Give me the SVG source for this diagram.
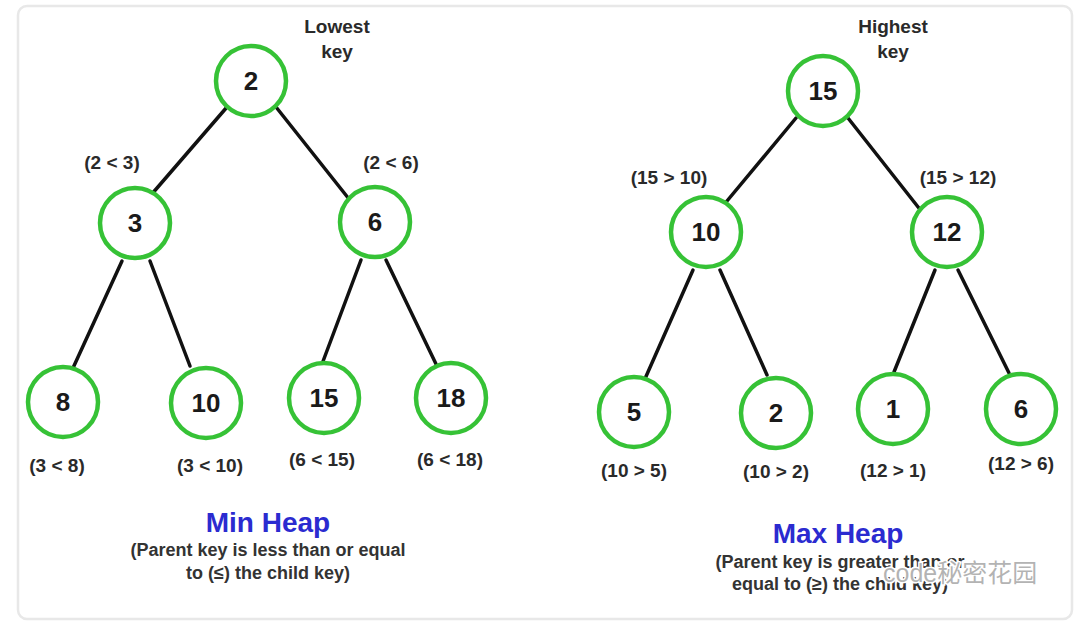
<svg xmlns="http://www.w3.org/2000/svg" width="1088" height="632" viewBox="0 0 1088 632">
<style>
.node circle{fill:#fff;stroke:#36c236;stroke-width:4.5}
.node text{font-family:"Liberation Sans",Arial,sans-serif;font-size:26px;font-weight:bold;fill:#1a1a1a;text-anchor:middle}
.edges line{stroke:#111;stroke-width:3.5;stroke-linecap:round}
.lbl{font-family:"Liberation Sans",Arial,sans-serif;font-size:19px;font-weight:bold;fill:#2a2a2a;text-anchor:middle}
.title{font-family:"Liberation Sans",Arial,sans-serif;font-size:28px;font-weight:bold;fill:#2b2bd0;text-anchor:middle}
.sub{font-family:"Liberation Sans",Arial,sans-serif;font-size:18px;font-weight:bold;fill:#333;text-anchor:middle}
.wm{font-family:"Liberation Sans","Noto Sans CJK SC",sans-serif;font-size:25px;fill:#9a9a9a;fill-opacity:0.75;stroke:#fff;stroke-width:3;paint-order:stroke}
</style>
<rect x="0" y="0" width="1088" height="632" fill="#fff"/>
<rect x="18" y="6" width="1054" height="613" rx="9" fill="#fff" stroke="#e8e8e8" stroke-width="2.5"/>
<g class="edges">
<line x1="227" y1="107" x2="151" y2="195"/>
<line x1="276" y1="107" x2="349" y2="199"/>
<line x1="122" y1="261" x2="73" y2="368"/>
<line x1="150" y1="261" x2="190" y2="366"/>
<line x1="361" y1="260" x2="322" y2="364"/>
<line x1="386" y1="260" x2="436" y2="364"/>
<line x1="796" y1="118" x2="722" y2="207"/>
<line x1="848" y1="118" x2="922" y2="212"/>
<line x1="693" y1="270" x2="644" y2="381"/>
<line x1="720" y1="270" x2="767" y2="375"/>
<line x1="935" y1="270" x2="894" y2="372"/>
<line x1="958" y1="270" x2="1009" y2="373"/>
</g>
<g id="min-2" class="node"><circle cx="251" cy="81" r="35"/><text x="251" y="90">2</text></g>
<g id="min-3" class="node"><circle cx="135" cy="223" r="35"/><text x="135" y="232">3</text></g>
<g id="min-6" class="node"><circle cx="375" cy="222" r="35"/><text x="375" y="231">6</text></g>
<g id="min-8" class="node"><circle cx="63" cy="402" r="35"/><text x="63" y="411">8</text></g>
<g id="min-10" class="node"><circle cx="206" cy="403" r="35"/><text x="206" y="412">10</text></g>
<g id="min-15" class="node"><circle cx="324" cy="398" r="35"/><text x="324" y="407">15</text></g>
<g id="min-18" class="node"><circle cx="451" cy="398" r="35"/><text x="451" y="407">18</text></g>
<g id="max-15" class="node"><circle cx="823" cy="91" r="35"/><text x="823" y="100">15</text></g>
<g id="max-10" class="node"><circle cx="706" cy="232" r="35"/><text x="706" y="241">10</text></g>
<g id="max-12" class="node"><circle cx="947" cy="232" r="35"/><text x="947" y="241">12</text></g>
<g id="max-5" class="node"><circle cx="634" cy="412" r="35"/><text x="634" y="421">5</text></g>
<g id="max-2" class="node"><circle cx="776" cy="413" r="35"/><text x="776" y="422">2</text></g>
<g id="max-1" class="node"><circle cx="893" cy="409" r="35"/><text x="893" y="418">1</text></g>
<g id="max-6" class="node"><circle cx="1021" cy="409" r="35"/><text x="1021" y="418">6</text></g>
<g id="labels">
<text class="lbl" x="337" y="33">Lowest</text>
<text class="lbl" x="337" y="58">key</text>
<text class="lbl" x="893" y="33">Highest</text>
<text class="lbl" x="893" y="58">key</text>
<text class="lbl" x="112" y="169">(2 &lt; 3)</text>
<text class="lbl" x="391" y="169">(2 &lt; 6)</text>
<text class="lbl" x="57" y="472">(3 &lt; 8)</text>
<text class="lbl" x="210" y="472">(3 &lt; 10)</text>
<text class="lbl" x="322" y="466">(6 &lt; 15)</text>
<text class="lbl" x="450" y="466">(6 &lt; 18)</text>
<text class="lbl" x="669" y="184">(15 &gt; 10)</text>
<text class="lbl" x="958" y="184">(15 &gt; 12)</text>
<text class="lbl" x="634" y="477">(10 &gt; 5)</text>
<text class="lbl" x="776" y="478">(10 &gt; 2)</text>
<text class="lbl" x="893" y="477">(12 &gt; 1)</text>
<text class="lbl" x="1021" y="470">(12 &gt; 6)</text>
<text class="title" x="268" y="532">Min Heap</text>
<text class="sub" x="268" y="556">(Parent key is less than or equal</text>
<text class="sub" x="268" y="579">to (≤) the child key)</text>
<text class="title" x="838" y="543">Max Heap</text>
<text class="sub" x="840" y="568">(Parent key is greater than or</text>
<text class="sub" x="840" y="590">equal to (≥) the child key)</text>
<text class="wm" x="883" y="582">code秘密花园</text>
</g>
</svg>
